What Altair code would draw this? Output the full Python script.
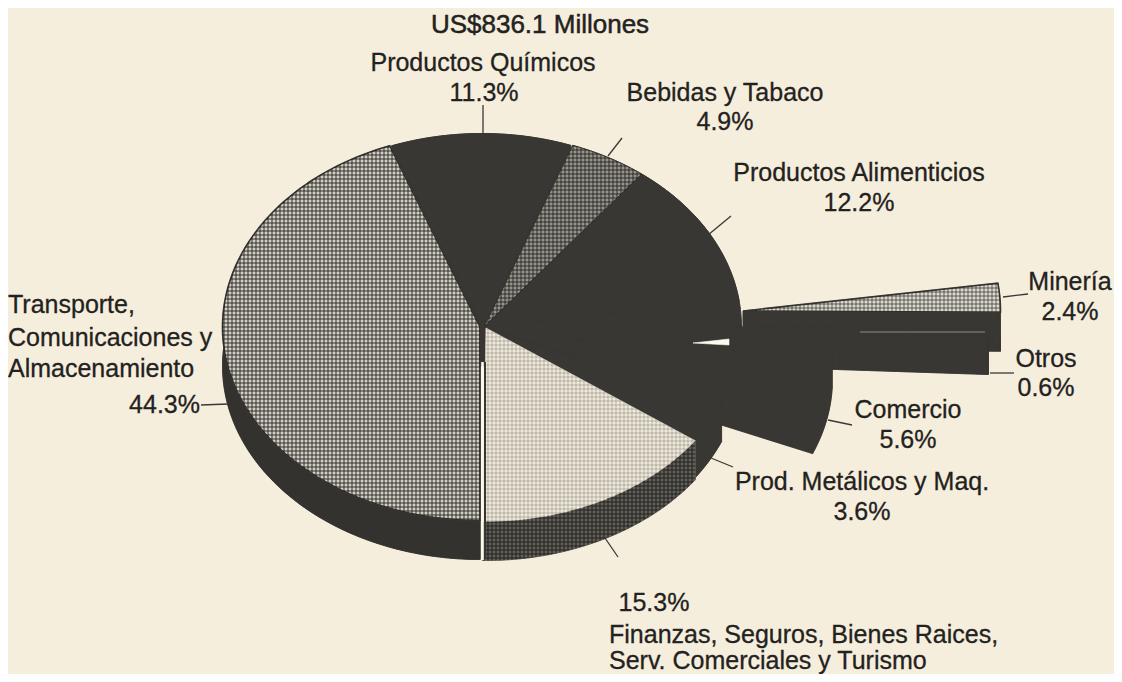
import math
import altair as alt

SLICES = ["Transporte", "Quimicos", "Bebidas", "Alimenticios", "Mineria", "Otros", "Comercio", "Metalicos", "Finanzas"]
SHARES = [44.3, 11.3, 4.9, 12.2, 2.4, 0.6, 5.6, 3.6, 15.3]

BG = "#f6eedd"
DARK = "#393733"
PALE = "#fdf9ee"
RX, RY, DEPTH = 257.5, 193.5, 39
# slice: centre x, centre y, top colour, side colour, outline width
STYLE = {
    "Transporte":   (480, 327, "#d2cec3", "#34322f", 1.6),
    "Quimicos":     (482, 327, DARK, DARK, 1),
    "Bebidas":      (484, 327, "#96938b", DARK, 1),
    "Alimenticios": (484, 327, DARK, DARK, 1),
    "Mineria":      (743, 311, "#dcd8cc", DARK, 1.6),
    "Otros":        (731, 327, DARK, DARK, 1),
    "Comercio":     (575, 340, DARK, DARK, 1),
    "Metalicos":    (484, 328, DARK, DARK, 1),
    "Finanzas":     (486, 328, "#efe9da", "#625f59", 0.5),
}
# stripe strength of the halftone on each textured surface
HALFTONE = {"Transporte": 0.42, "Bebidas": 0.40, "Mineria": 0.30, "Finanzas": 0.12, "Finanzas side": 0.42}
PITCH = 4

angles = {}
a = 180.0
for n, s in zip(SLICES, SHARES):
    angles[n] = (a, a + s * 3.6)
    a += s * 3.6


def wedge(cx, cy, a0, a1, dy=0):
    n = max(3, int(abs(a1 - a0)))
    pts = [[cx, cy + dy]]
    for i in range(n + 1):
        t = math.radians(a0 + (a1 - a0) * i / n)
        pts.append([cx + RX * math.sin(t), cy + dy - RY * math.cos(t)])
    pts.append([cx, cy + dy])
    return pts


def feature(geom, fill, stroke, sw):
    return {"type": "Feature", "geometry": geom, "properties": {"fill": fill, "stroke": stroke, "sw": sw}}


def poly(points, fill, stroke=None, sw=0.6):
    pts = points if points[0] == points[-1] else points + [points[0]]
    return feature({"type": "Polygon", "coordinates": [pts]}, fill, stroke or fill, sw)


def band(name):
    cx, cy = STYLE[name][:2]
    a0, a1 = angles[name]
    t = wedge(cx, cy, a0, a1)[1:-1]
    low = wedge(cx, cy, a0, a1, DEPTH)[1:-1]
    return t + low[::-1] + [t[0]]


def body(name):
    cx, cy, _, side, _ = STYLE[name]
    a0, a1 = angles[name]
    t = wedge(cx, cy, a0, a1)
    low = wedge(cx, cy, a0, a1, DEPTH)
    return [
        poly(low, side),
        poly([t[0], t[1], low[1], low[0]], side),
        poly([t[0], t[-2], low[-2], low[0]], side),
        poly(band(name), side),
    ]


def top(name):
    cx, cy, fill, _, sw = STYLE[name]
    a0, a1 = angles[name]
    return poly(wedge(cx, cy, a0, a1), fill, DARK if sw > 0.6 else fill, sw)


a_hidden0 = angles["Mineria"][0]
a_hidden1 = angles["Metalicos"][0]
features = []
for n in ["Transporte", "Quimicos", "Bebidas", "Alimenticios"]:
    features += body(n)
# dark wall behind the pieces that were pulled out
features.append(poly(wedge(484, 327, a_hidden0, a_hidden1), DARK, DARK, 1))
for n in ["Transporte", "Quimicos", "Bebidas", "Alimenticios"]:
    features.append(top(n))
features.append(poly([[480, 325], [487, 325], [487, 366], [480, 366]], DARK))
for n in ["Mineria", "Otros", "Comercio", "Metalicos"]:
    features += body(n)
    features.append(top(n))
features += body("Finanzas")
features.append(top("Finanzas"))
features.append(poly([[693, 343], [729, 339], [729, 345]], PALE))

LEADERS = [
    [[483, 105], [483, 133]],
    [[622, 138], [608, 156]],
    [[731, 216], [708, 235]],
    [[1003, 297], [1028, 294]],
    [[990, 373], [1014, 373]],
    [[828, 420], [852, 425]],
    [[711, 458], [733, 467]],
    [[605, 538], [618, 557]],
    [[201, 405], [228, 404]],
]
lines = [feature({"type": "LineString", "coordinates": c}, "none", "#3a3835", 1.3) for c in LEADERS]
lines.append(feature({"type": "LineString", "coordinates": [[482.5, 362], [482.5, 560]]}, "none", PALE, 2.6))
lines.append(feature({"type": "LineString", "coordinates": [[485, 362], [485, 559]]}, "none", DARK, 2))
lines.append(feature({"type": "LineString", "coordinates": [[860, 332], [985, 332]]}, "none", "#8f8b80", 1))

TEXTS = ["Productos Químicos", "11.3%", "Bebidas y Tabaco", "4.9%",
         "Productos Alimenticios", "12.2%", "Minería", "2.4%", "Otros", "0.6%", "Comercio", "5.6%",
         "Prod. Metálicos y Maq.", "3.6%", "15.3%"]
TEXT_X = [483, 484, 725, 725, 859, 859, 1070, 1070, 1046, 1046, 908, 908, 862, 862, 654]
TEXT_Y = [63, 93, 93, 122, 173, 203, 282, 312, 359, 388, 410, 440, 482, 512, 603]
LEFT_TEXTS = ["Finanzas, Seguros, Bienes Raices,", "Serv. Comerciales y Turismo", "Transporte,", "Comunicaciones y", "Almacenamiento"]
LEFT_X = [609, 609, 8, 8, 8]
LEFT_Y = [635, 661, 305, 338, 369]
RIGHT_TEXTS = ["44.3%"]
RIGHT_X = [200]
RIGHT_Y = [405]
TITLE = ["US$836.1 Millones"]
TITLE_X = [540]
TITLE_Y = [25]


def geo(feats):
    return alt.InlineData(values={"type": "FeatureCollection", "features": feats},
                          format=alt.DataFormat(property="features", type="json"))


def stripes(pts, horizontal, alpha):
    vals = [p[1] if horizontal else p[0] for p in pts]
    extent = max(vals) - min(vals)
    ink = f"rgba(25,24,22,{alpha})"
    clear = "rgba(25,24,22,0)"
    stops = []
    k = 0
    while k * PITCH < extent:
        o0 = k * PITCH / extent
        o1 = min(1, (k + 0.5) * PITCH / extent)
        o2 = min(1, (k + 1) * PITCH / extent)
        stops += [alt.GradientStop(color=ink, offset=o0), alt.GradientStop(color=ink, offset=o1),
                  alt.GradientStop(color=clear, offset=o1), alt.GradientStop(color=clear, offset=o2)]
        k += 1
    if horizontal:
        return alt.LinearGradient(gradient="linear", stops=stops, x1=0, x2=0, y1=0, y2=1)
    return alt.LinearGradient(gradient="linear", stops=stops, x1=0, x2=1, y1=0, y2=0)


def halftone(pts, alpha):
    return [alt.Chart(geo([poly(pts, "none")])).mark_geoshape(fill=stripes(pts, h, alpha), stroke=None)
            for h in (False, True)]


shapes = alt.Chart(geo(features)).mark_geoshape().encode(
    fill=alt.Fill("properties.fill:N", scale=None),
    stroke=alt.Stroke("properties.stroke:N", scale=None),
    strokeWidth=alt.StrokeWidth("properties.sw:Q", scale=None),
)
leaders = alt.Chart(geo(lines)).mark_geoshape(filled=False).encode(
    stroke=alt.Stroke("properties.stroke:N", scale=None),
    strokeWidth=alt.StrokeWidth("properties.sw:Q", scale=None),
)

screens = []
for n in ["Transporte", "Bebidas", "Mineria", "Finanzas"]:
    cx, cy = STYLE[n][:2]
    screens += halftone(wedge(cx, cy, *angles[n]), HALFTONE[n])
screens += halftone(band("Finanzas"), HALFTONE["Finanzas side"])


def labels(ts, xs, ys, align, size=25, sw=0.3):
    rows = [{"t": t, "x": x, "y": y} for t, x, y in zip(ts, xs, ys)]
    return alt.Chart(alt.Data(values=rows)).mark_text(
        font="Liberation Sans", fontSize=size, color="#232220", stroke="#232220", strokeWidth=sw,
        align=align, baseline="middle"
    ).encode(longitude="x:Q", latitude="y:Q", text="t:N")


chart = alt.layer(
    shapes, *screens, leaders,
    labels(TITLE, TITLE_X, TITLE_Y, "center", 26, 0.5),
    labels(TEXTS, TEXT_X, TEXT_Y, "center"),
    labels(LEFT_TEXTS, LEFT_X, LEFT_Y, "left"),
    labels(RIGHT_TEXTS, RIGHT_X, RIGHT_Y, "right"),
).project(type="identity", scale=1, translate=[-8, -8]).properties(
    width=1106, height=666, background=BG, padding=0,
    autosize=alt.AutoSizeParams(type="none"),
).configure_view(stroke=None)

chart.save("out.html", embed_options={"renderer": "svg", "actions": False})
